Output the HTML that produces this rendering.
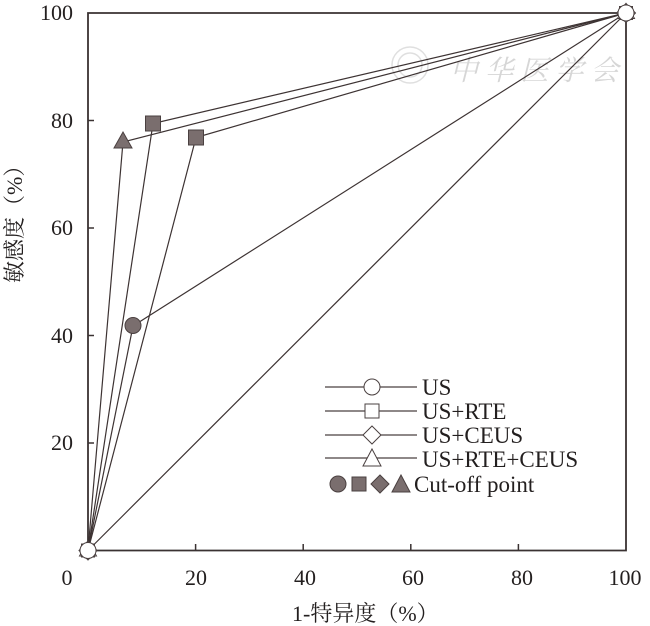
<!DOCTYPE html>
<html><head><meta charset="utf-8"><style>
html,body{margin:0;padding:0;background:#fff;}
svg{display:block;font-family:"Liberation Serif","Times New Roman","Noto Serif CJK SC",serif;}
svg text{font-family:"Liberation Serif","Times New Roman","Noto Serif CJK SC",serif;fill:#231f1f;}
</style></head><body>
<svg width="650" height="626" viewBox="0 0 650 626" xmlns="http://www.w3.org/2000/svg" font-family="Liberation Serif, Times New Roman, Noto Serif CJK SC, serif">
<!-- watermark -->
<g opacity="0.3" fill="none" stroke="#999" stroke-width="1.5">
<circle cx="410" cy="65" r="18"/>
<circle cx="410" cy="65" r="12"/>
</g>
<text x="450" y="80" font-size="28" font-style="italic" style="fill:#d6d6d6;font-family:'Noto Serif CJK SC','Noto Sans CJK SC',serif">中 华 医 学 会</text>

<!-- axes box -->
<g stroke="#3a3232" stroke-width="1.8" fill="none">
<path d="M88,13 L626,13 L626,550.5 L88,550.5 Z"/>
</g>
<!-- ticks -->
<g stroke="#3a3232" stroke-width="1.5">
<line x1="88" y1="120.5" x2="94" y2="120.5"/>
<line x1="88" y1="228" x2="94" y2="228"/>
<line x1="88" y1="335.5" x2="94" y2="335.5"/>
<line x1="88" y1="443" x2="94" y2="443"/>
<line x1="195.6" y1="550.5" x2="195.6" y2="544"/>
<line x1="303.2" y1="550.5" x2="303.2" y2="544"/>
<line x1="410.8" y1="550.5" x2="410.8" y2="544"/>
<line x1="518.4" y1="550.5" x2="518.4" y2="544"/>
</g>
<!-- tick labels -->
<g font-size="22" text-anchor="end" font-family="Liberation Serif, Times New Roman, serif">
<text x="73" y="20">100</text>
<text x="73" y="128">80</text>
<text x="73" y="235">60</text>
<text x="73" y="343">40</text>
<text x="73" y="450">20</text>
</g>
<g font-size="22" text-anchor="middle" font-family="Liberation Serif, Times New Roman, serif">
<text x="67" y="585">0</text>
<text x="196" y="585">20</text>
<text x="305" y="585">40</text>
<text x="413" y="585">60</text>
<text x="522" y="585">80</text>
<text x="625" y="585">100</text>
</g>
<!-- axis labels -->
<text x="292" y="621" font-size="22">1-特异度（%）</text>
<text transform="translate(22,283) rotate(-90)" font-size="22">敏感度（%）</text>

<!-- series lines -->
<g stroke="#3d3333" stroke-width="1.2" fill="none">
<line x1="88" y1="550.5" x2="626" y2="13"/>
<polyline points="88,550.5 133,326 626,13"/>
<polyline points="88,550.5 153,123.5 626,13"/>
<polyline points="88,550.5 196,137.5 626,13"/>
<polyline points="88,550.5 123,142 626,13"/>
</g>

<!-- cut-off markers -->
<g fill="#7a6e6e" stroke="#4a4040" stroke-width="1">
<circle cx="133" cy="325.5" r="8"/>
<rect x="145.5" y="116" width="15" height="15"/>
<rect x="188.5" y="130" width="15" height="15"/>
<polygon points="123,132 132,148 114,148"/>
</g>

<!-- end markers (open) -->
<g fill="#fff" stroke="#4a4040" stroke-width="1">
<rect x="81.5" y="544" width="13" height="13"/>
<polygon points="88,541 97,550.5 88,560 79,550.5"/>
<polygon points="88,541 96.5,556 79.5,556"/>
<circle cx="88" cy="550.5" r="8"/>
<rect x="619.5" y="6.5" width="13" height="13"/>
<polygon points="626,3.5 635.5,13 626,22.5 616.5,13"/>
<polygon points="626,3.5 634.5,18.5 617.5,18.5"/>
<circle cx="626" cy="13" r="8"/>
</g>

<!-- legend -->
<g stroke="#4a4040" stroke-width="1.2">
<line x1="325" y1="387" x2="417" y2="387"/>
<line x1="325" y1="411" x2="417" y2="411"/>
<line x1="325" y1="435" x2="417" y2="435"/>
<line x1="325" y1="458" x2="417" y2="458"/>
</g>
<g fill="#fff" stroke="#4a4040" stroke-width="1">
<circle cx="372" cy="387" r="8"/>
<rect x="365" y="404" width="14" height="14"/>
<polygon points="372,426 381,435 372,444 363,435"/>
<polygon points="372,449 381,466 363,466"/>
</g>
<g fill="#7a6e6e" stroke="#4a4040" stroke-width="1">
<circle cx="338" cy="484" r="8"/>
<rect x="352" y="477" width="14" height="14"/>
<polygon points="380,475 389,484 380,493 371,484"/>
<polygon points="401,475 410,492 392,492"/>
</g>
<g font-size="23" font-family="Liberation Serif, Times New Roman, serif">
<text x="422" y="395">US</text>
<text x="422" y="419">US+RTE</text>
<text x="422" y="443">US+CEUS</text>
<text x="422" y="467">US+RTE+CEUS</text>
<text x="414" y="492">Cut-off point</text>
</g>
</svg>
</body></html>
